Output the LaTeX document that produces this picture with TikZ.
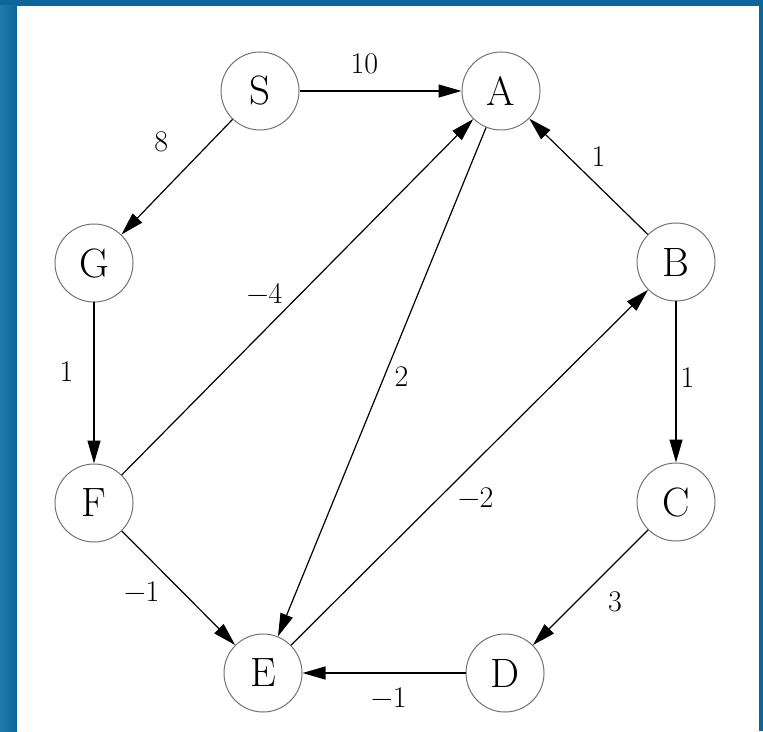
\documentclass[tikz,border=0pt]{standalone}
\usepackage{fontspec}
\usetikzlibrary{arrows.meta}
\definecolor{frameblue}{RGB}{12,102,156}
\definecolor{frameleft}{RGB}{34,122,170}

\begin{document}
\begin{tikzpicture}[x=0.5pt,y=-0.5pt,>={Triangle[length=11.5pt,width=6.5pt]},
 vertex/.style={circle,draw=black!55,line width=0.5pt,minimum size=39pt,inner sep=0pt,
  font=\fontsize{20.5}{24}\selectfont},
 edge/.style={->,line width=0.6pt},
 wt/.style={font=\fontsize{15}{18}\selectfont,inner sep=2pt}]
 % frame
 \fill[frameblue] (0,0) rectangle (763,731);
 \shade[left color=frameleft,right color=frameblue] (0,6) rectangle (17,731);
 \fill[white] (17,6) rectangle (759,731);
 % vertices
 \node[vertex] (S) at (260,91) {S};
 \node[vertex] (A) at (501,91) {A};
 \node[vertex] (G) at (94,263) {G};
 \node[vertex] (B) at (676,262) {B};
 \node[vertex] (F) at (94,503) {F};
 \node[vertex] (C) at (676,502) {C};
 \node[vertex] (E) at (263,673) {E};
 \node[vertex] (D) at (505,673) {D};
 % weighted edges
 \draw[edge] (S) -- node[wt,pos=0.4,above=6pt] {10} (A);
 \draw[edge] (S) -- node[wt,pos=0.43,above left=6pt] {8} (G);
 \draw[edge] (G) -- node[wt,pos=0.43,left=8pt] {1} (F);
 \draw[edge] (F) -- node[wt,pos=0.47,above left=0pt] {−4} (A);
 \draw[edge] (A) -- node[wt,pos=0.49,right=3pt] {2} (E);
 \draw[edge] (B) -- node[wt,pos=0.53,above right=1pt] {1} (A);
 \draw[edge] (B) -- node[wt,pos=0.47,right=0pt] {1} (C);
 \draw[edge] (C) -- node[wt,pos=0.44,below right=3pt] {3} (D);
 \draw[edge] (D) -- node[wt,pos=0.47,below=5pt] {−1} (E);
 \draw[edge] (E) -- node[wt,pos=0.455,below right=0pt] {−2} (B);
 \draw[edge] (F) -- node[wt,pos=0.39,below left=1pt] {−1} (E);
\end{tikzpicture}
\end{document}
